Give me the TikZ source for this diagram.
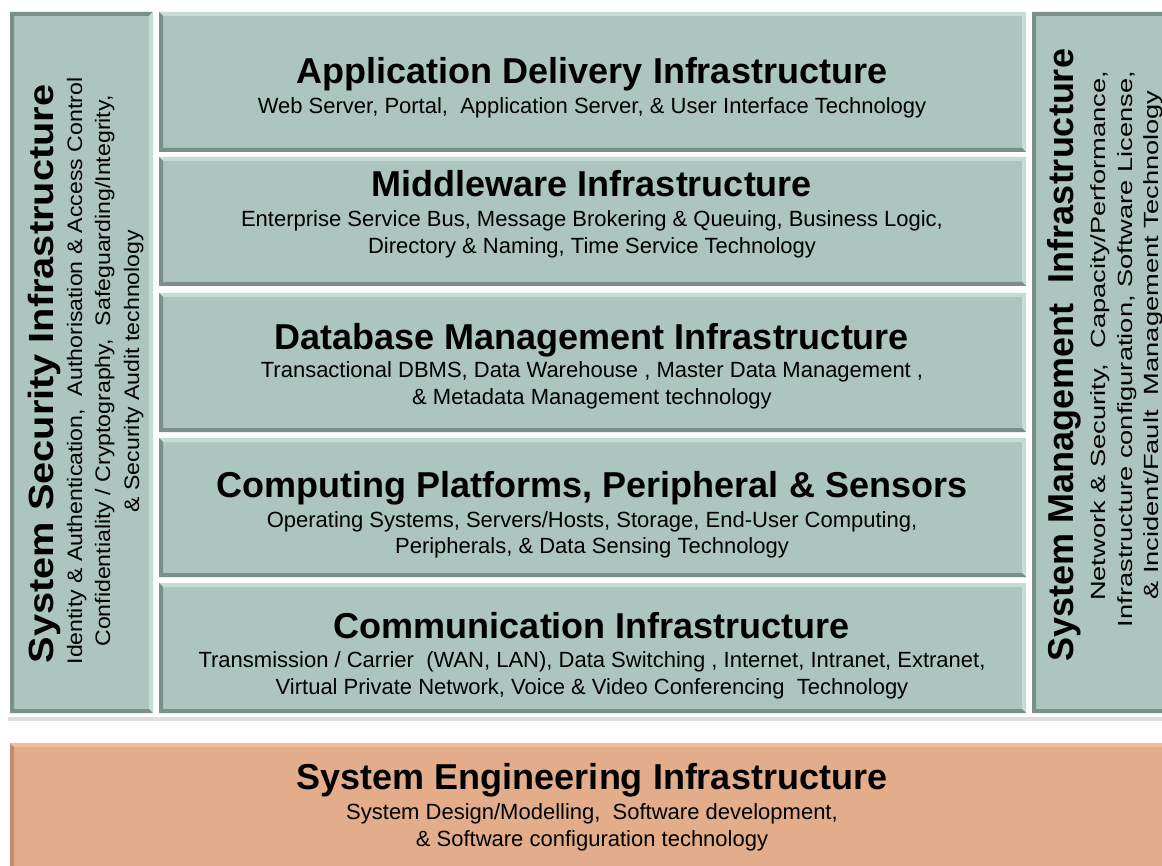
\documentclass[tikz,border=0pt]{standalone}
\usepackage{fontspec}
\setmainfont{Liberation Sans}
\usetikzlibrary{calc}
\definecolor{tealfill}{RGB}{172,197,190}
\definecolor{tealdark}{RGB}{122,143,137}
\definecolor{teallight}{RGB}{196,222,214}
\definecolor{orfill}{RGB}{227,173,139}
\definecolor{ordark}{RGB}{196,140,108}
\definecolor{orlight}{RGB}{242,188,154}
\definecolor{shadowgray}{RGB}{222,222,222}
\newcommand\bevbox[8]{% x1 y1 x2 y2 fill top right bottom
  \fill[#5] (#1,#2) rectangle (#3,#4);
  \fill[#6] (#1,#2) -- (#3,#2) -- ($(#3,#2)+(-4,4)$) -- ($(#1,#2)+(4,4)$) -- cycle;
  \fill[#7] (#3,#2) -- (#3,#4) -- ($(#3,#4)+(-4,-4)$) -- ($(#3,#2)+(-4,4)$) -- cycle;
  \fill[#8] (#1,#4) -- (#3,#4) -- ($(#3,#4)+(-4,-4)$) -- ($(#1,#4)+(4,-4)$) -- cycle;
  \fill[tealdark] (#1,#2) -- (#1,#4) -- ($(#1,#4)+(4,-4)$) -- ($(#1,#2)+(4,4)$) -- cycle;
}
\tikzset{
  ttl/.style={anchor=base, inner sep=0pt, font=\fontsize{36}{40}\selectfont\bfseries},
  sub/.style={anchor=base, inner sep=0pt, font=\fontsize{22}{27}\selectfont},
  lttl/.style={anchor=base, inner sep=0pt, rotate=90, xscale=1.135, font=\fontsize{35}{40}\selectfont\bfseries},
  lsub/.style={anchor=base, inner sep=0pt, rotate=90, xscale=1.1, font=\fontsize{21}{27}\selectfont},
  rttl/.style={anchor=base, inner sep=0pt, rotate=90, font=\fontsize{36}{40}\selectfont\bfseries},
  rsub/.style={anchor=base, inner sep=0pt, rotate=90, xscale=1.33, font=\fontsize{20.5}{27}\selectfont},
}
\begin{document}
\begin{tikzpicture}[x=1pt,y=-1pt]
\useasboundingbox (0,0) rectangle (1162,866);
\fill[white] (0,0) rectangle (1162,866);
% shadow line
\fill[shadowgray] (8,717) rectangle (1162,721);
% side boxes
\bevbox{10}{12}{153}{713}{tealfill}{tealdark}{teallight}{tealdark}
\bevbox{1032}{12}{1166}{713}{tealfill}{tealdark}{teallight}{tealdark}
% middle rows
\bevbox{159}{12}{1026}{152}{tealfill}{teallight}{teallight}{tealdark}
\bevbox{159}{157}{1026}{286}{tealfill}{teallight}{teallight}{tealdark}
\bevbox{159}{293}{1026}{432}{tealfill}{teallight}{teallight}{tealdark}
\bevbox{159}{438}{1026}{577}{tealfill}{teallight}{teallight}{tealdark}
\bevbox{159}{583}{1026}{713}{tealfill}{teallight}{teallight}{tealdark}
% bottom box
\fill[orfill] (10,743) rectangle (1166,870);
\fill[orlight] (10,743) rectangle (1166,747);
\fill[ordark] (10,743) -- (14,747) -- (14,870) -- (10,870) -- cycle;

% middle texts
\node[ttl] (t1) at (592,84) {Application Delivery Infrastructure};
\node[sub] (s1a) at (592,114) {Web Server, Portal, \ Application Server, \& User Interface Technology};

\node[ttl] (t2) at (592,197) {Middleware Infrastructure};
\node[sub] (s2a) at (592,227) {Enterprise Service Bus, Message Brokering \& Queuing, Business Logic,};
\node[sub] (s2b) at (592,254) {Directory \& Naming, Time Service Technology};

\node[ttl] (t3) at (592,350) {Database Management Infrastructure};
\node[sub] (s3a) at (592,378) {Transactional DBMS, Data Warehouse , Master Data Management ,};
\node[sub] (s3b) at (592,405) {\& Metadata Management technology};

\node[ttl] (t4) at (592,497) {Computing Platforms, Peripheral \& Sensors};
\node[sub] (s4a) at (592,527) {Operating Systems, Servers/Hosts, Storage, End-User Computing,};
\node[sub] (s4b) at (592,553) {Peripherals, \& Data Sensing Technology};

\node[ttl] (t5) at (592,638) {Communication Infrastructure};
\node[sub] (s5a) at (592,667) {Transmission / Carrier \ (WAN, LAN), Data Switching , Internet, Intranet, Extranet,};
\node[sub] (s5b) at (592,694) {Virtual Private Network, Voice \& Video Conferencing \ Technology};

\node[ttl] (t6) at (592,789) {System Engineering Infrastructure};
\node[sub] (s6a) at (592,819) {System Design/Modelling, \ Software development,};
\node[sub] (s6b) at (592,846) {\& Software configuration technology};

% left side texts
\node[lttl] (lt) at (53,374) {System Security Infrastructure};
\node[lsub] (ls1) at (82,371) {Identity \& Authentication, \ Authorisation \& Access Control};
\node[lsub] (ls2) at (110,371) {Confidentiality / Cryptography, \ Safeguarding/Integrity,};
\node[lsub] (ls3) at (139,371) {\& Security Audit technology};

% right side texts
\node[rttl] (rt) at (1073,355) {System Management \ Infrastructure};
\node[rsub] (rs1) at (1105,336) {Network \& Security, \ Capacity/Performance,};
\node[rsub] (rs2) at (1132,349) {Infrastructure configuration, Software License,};
\node[rsub] (rs3) at (1158,345) {\& Incident/Fault \ Management Technology};
\end{tikzpicture}
\end{document}
